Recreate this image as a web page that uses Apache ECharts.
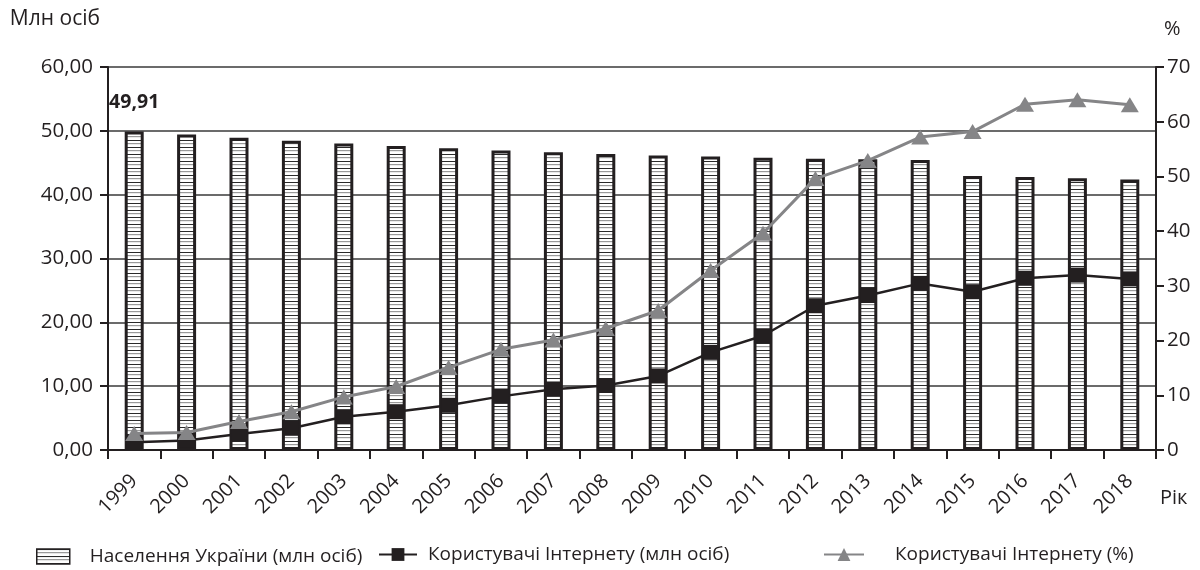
<!DOCTYPE html>
<html>
<head>
<meta charset="utf-8">
<script src="https://cdn.jsdelivr.net/npm/echarts@6/dist/echarts.min.js"></script>
<style>
  html, body { margin: 0; padding: 0; background: #fff; }
  #chart { width: 1200px; height: 570px; }
</style>
</head>
<body>
<div id="chart"></div>
<script>
// Роки
const years = ['1999','2000','2001','2002','2003','2004','2005','2006','2007','2008',
               '2009','2010','2011','2012','2013','2014','2015','2016','2017','2018'];

// Населення України, млн осіб
const population = [49.91, 49.43, 48.92, 48.46, 48.00, 47.62, 47.28, 46.93, 46.65, 46.37,
                    46.14, 45.96, 45.78, 45.63, 45.55, 45.43, 42.93, 42.76, 42.58, 42.39];

// Користувачі Інтернету, млн осіб
const usersMln = [1.2, 1.5, 2.5, 3.4, 5.2, 6.0, 7.0, 8.4, 9.5, 10.1,
                  11.6, 15.3, 17.9, 22.6, 24.2, 26.1, 24.8, 26.9, 27.4, 26.8];

// Користувачі Інтернету, % населення
const usersPct = [3.0, 3.2, 5.2, 7.0, 9.7, 11.6, 15.1, 18.4, 20.1, 22.2,
                  25.5, 32.8, 39.6, 49.6, 52.9, 57.2, 58.2, 63.2, 64.0, 63.1];

const INK = '#231f20';
const GREY = '#858587';
const FONT = 'Open Sans';

// Горизонтальне штрихування стовпців: чорна й сіра лінії по черзі
function stripes() {
  const c = document.createElement('canvas');
  c.width = 4; c.height = 7;
  const g = c.getContext('2d');
  g.fillStyle = '#ffffff';
  g.fillRect(0, 0, 4, 7);
  g.fillStyle = '#2a2a2a';
  g.fillRect(0, 0, 4, 1);
  g.fillStyle = '#9a9a9a';
  g.fillRect(0, 3, 4, 1.2);
  return c;
}

const comma = v => v.toFixed(2).replace('.', ',');

const chart = echarts.init(document.getElementById('chart'));

chart.setOption({
  animation: false,
  textStyle: { fontFamily: FONT, color: INK },
  grid: { left: 108, right: 44, top: 67, bottom: 120 },
  legend: [
    {
      data: [{ name: 'Населення України (млн осіб)', icon: 'rect' }],
      left: 31, top: 542,
      itemWidth: 33, itemHeight: 15,
      itemStyle: { borderWidth: 1.5, borderColor: INK },
      textStyle: { fontFamily: FONT, fontSize: 19, color: INK, padding: [0, 0, 0, 15] }
    },
    {
      data: ['Користувачі Інтернету (млн осіб)'],
      left: 373, top: 540,
      itemWidth: 38, itemHeight: 16,
      textStyle: { fontFamily: FONT, fontSize: 19, color: INK, padding: [0, 0, 0, 6] }
    },
    {
      data: ['Користувачі Інтернету (%)'],
      left: 818, top: 540,
      itemWidth: 40, itemHeight: 16,
      textStyle: { fontFamily: FONT, fontSize: 19, color: INK, padding: [0, 0, 0, 26] }
    }
  ],
  xAxis: {
    type: 'category',
    data: years,
    boundaryGap: true,
    name: 'Рік',
    nameLocation: 'end',
    nameGap: 4,
    nameTextStyle: { fontFamily: FONT, fontSize: 20, color: INK, align: 'left', verticalAlign: 'top', padding: [38, 0, 0, 0] },
    axisLine: { lineStyle: { color: INK, width: 2 } },
    axisTick: { show: true, alignWithLabel: false, length: 9, lineStyle: { color: INK, width: 2 } },
    axisLabel: { fontFamily: FONT, fontSize: 20, color: INK, rotate: 45, margin: 28, interval: 0 }
  },
  yAxis: [
    {
      type: 'value',
      min: 0, max: 60, interval: 10,
      name: 'Млн осіб',
      nameLocation: 'end',
      nameGap: 37,
      nameTextStyle: { fontFamily: FONT, fontSize: 21, color: INK, align: 'right', padding: [0, 8, 0, 0] },
      axisLine: { show: true, lineStyle: { color: INK, width: 2 } },
      axisTick: { show: true, length: 8, lineStyle: { color: INK, width: 2 } },
      axisLabel: { fontFamily: FONT, fontSize: 20.5, color: INK, margin: 15, formatter: comma },
      splitLine: { show: true, lineStyle: { color: '#3a3a3a', width: 1.6 } }
    },
    {
      type: 'value',
      min: 0, max: 70, interval: 10,
      name: '%',
      nameLocation: 'end',
      nameGap: 28,
      nameTextStyle: { fontFamily: FONT, fontSize: 20, color: INK, align: 'left', padding: [0, 0, 0, 8] },
      position: 'right',
      axisLine: { show: true, lineStyle: { color: INK, width: 2 } },
      axisTick: { show: true, length: 8, lineStyle: { color: INK, width: 2 } },
      axisLabel: { fontFamily: FONT, fontSize: 20.5, color: INK, margin: 11 },
      splitLine: { show: false }
    }
  ],
  series: [
    {
      name: 'Населення України (млн осіб)',
      type: 'bar',
      yAxisIndex: 0,
      barWidth: 19,
      itemStyle: {
        color: { image: stripes(), repeat: 'repeat' },
        borderColor: INK,
        borderWidth: 3
      },
      data: population.map((v, i) => i === 0
        ? { value: v, label: { show: true, position: 'top', distance: 19, fontFamily: FONT, fontSize: 19.5, fontWeight: 'bold', color: INK, formatter: p => comma(p.value) } }
        : v),
      z: 1
    },
    {
      name: 'Користувачі Інтернету (млн осіб)',
      type: 'line',
      yAxisIndex: 0,
      data: usersMln,
      symbol: 'rect',
      symbolSize: 15,
      lineStyle: { color: INK, width: 2.5 },
      itemStyle: { color: INK },
      z: 3
    },
    {
      name: 'Користувачі Інтернету (%)',
      type: 'line',
      yAxisIndex: 1,
      data: usersPct,
      symbol: 'triangle',
      symbolSize: [18, 15],
      lineStyle: { color: GREY, width: 3 },
      itemStyle: { color: GREY },
      z: 4
    }
  ]
});
</script>
</body>
</html>
